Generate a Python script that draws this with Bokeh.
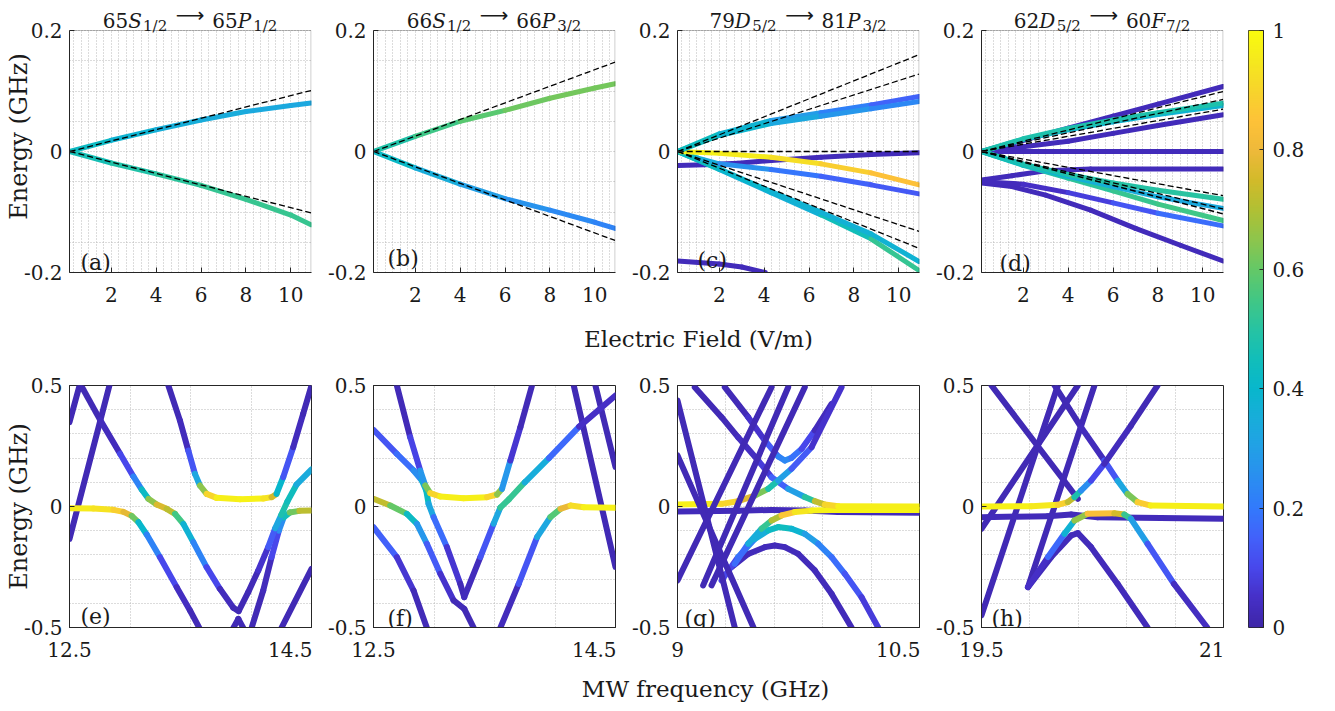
import numpy as np
from bokeh.plotting import figure
from bokeh.layouts import row, column
from bokeh.models import (ColumnDataSource, FixedTicker, LinearAxis, Label, Range1d, Grid,
                          LinearColorMapper, CustomJSTickFormatter, BoxAnnotation)
from bokeh.transform import linear_cmap
from bokeh.embed import file_html
from bokeh.resources import INLINE

FONT = "DejaVu Serif"
AX = "#262626"
TXT = "#1a1a1a"
GRID = "#b8b8b8"

# ---------------- parula-like colormap ----------------
_anch = [(0.00, (62, 38, 168)), (0.05, (70, 48, 200)), (0.10, (72, 72, 236)), (0.15, (66, 98, 250)),
         (0.20, (50, 122, 252)), (0.25, (42, 142, 240)), (0.30, (34, 160, 230)), (0.35, (24, 173, 218)),
         (0.40, (8, 183, 204)), (0.45, (18, 190, 185)), (0.50, (39, 195, 162)), (0.55, (66, 199, 132)),
         (0.60, (100, 200, 103)), (0.65, (141, 197, 76)), (0.70, (176, 192, 52)), (0.75, (210, 186, 42)),
         (0.80, (238, 185, 58)), (0.85, (254, 194, 56)), (0.90, (247, 212, 44)), (0.95, (245, 232, 30)),
         (1.00, (249, 251, 14))]


def _parula(n=256):
    pos = [a[0] for a in _anch]
    out = []
    for t in np.linspace(0, 1, n):
        rgb = [int(round(np.interp(t, pos, [a[1][k] for a in _anch]))) for k in range(3)]
        out.append("#%02x%02x%02x" % tuple(rgb))
    return out


PARULA = _parula()

# ---------------- data: top row (energy vs electric field) ----------------
field_range = (0.14, 10.9)
energy_top_range = (-0.2, 0.2)
field_ticks = [2, 4, 6, 8, 10]
field_minor = [k / 3 for k in range(1, 33) if k % 6 != 0]
energy_top_ticks = [-0.2, 0, 0.2]
energy_top_minor = [-0.15, -0.1, -0.05, 0.05, 0.1, 0.15]

# (a) 65S1/2 -> 65P1/2
a_x = [0.15, 2, 4, 6, 8, 10, 10.9]
a_up_y = [0, 0.0185, 0.036, 0.052, 0.066, 0.076, 0.080]
a_up_c = [0.45, 0.4, 0.36, 0.35, 0.34, 0.33, 0.33]
a_lo_y = [0, -0.019, -0.037, -0.056, -0.079, -0.105, -0.121]
a_lo_c = [0.45, 0.47, 0.5, 0.52, 0.53, 0.53, 0.53]
a_dash_end = [0.1008, -0.1014]

# (b) 66S1/2 -> 66P3/2
b_x = [0.15, 2, 4, 6, 8, 10, 10.9]
b_up_y = [0, 0.025, 0.050, 0.068, 0.088, 0.105, 0.112]
b_up_c = [0.45, 0.52, 0.57, 0.6, 0.62, 0.62, 0.62]
b_lo_y = [0, -0.027, -0.054, -0.078, -0.097, -0.117, -0.127]
b_lo_c = [0.45, 0.38, 0.32, 0.28, 0.25, 0.23, 0.22]
b_dash_end = [0.1477, -0.147]

# (c) 79D5/2 -> 81P3/2
c_x = [0.15, 2.0, 4.31, 6.53, 8.76, 10.9]
c_u1_y = [0, 0.0292, 0.0512, 0.0639, 0.0771, 0.0909]
c_u1_c = [0.45, 0.42, 0.33, 0.25, 0.18, 0.13]
c_u2_y = [0, 0.0264, 0.0463, 0.0584, 0.0705, 0.0826]
c_u2_c = [0.45, 0.42, 0.36, 0.3, 0.25, 0.22]
c_yl_y = [0, -0.0028, -0.0094, -0.0204, -0.0353, -0.0551]
c_yl_c = [0.97, 0.97, 0.95, 0.9, 0.86, 0.83]
c_pu_x = [0.15, 1.35, 2.83, 4.31, 6.53, 8.76, 10.9]
c_pu_y = [-0.0231, -0.022, -0.0193, -0.0149, -0.0094, -0.005, -0.0022]
c_bl_x = [0.15, 1.05, 2.0, 4.31, 6.53, 8.76, 10.9]
c_bl_y = [0, -0.011, -0.0204, -0.0298, -0.0408, -0.0551, -0.070]
c_bl_c = [0.45, 0.4, 0.3, 0.22, 0.17, 0.14, 0.13]
c_l1_y = [0, -0.0287, -0.0661, -0.1003, -0.1361, -0.1818]
c_l1_c = [0.45, 0.42, 0.38, 0.37, 0.37, 0.38]
c_l2_y = [0, -0.0298, -0.0683, -0.1047, -0.1444, -0.1967]
c_l2_c = [0.45, 0.38, 0.33, 0.4, 0.5, 0.55]
c_bt_x = [0.15, 2.0, 3.0, 4.05]
c_bt_y = [-0.181, -0.186, -0.191, -0.2]
c_dash_end = [0.160, 0.128, 0.0, -0.132, -0.160]

# (d) 62D5/2 -> 60F7/2
d_x = [0.15, 2, 4, 6, 8, 10.9]
d_t1_y = [0, 0.0185, 0.0385, 0.0585, 0.0784, 0.1074]
d_t2_y = [0, 0.021, 0.038, 0.052, 0.064, 0.080]
d_t3_y = [0, 0.020, 0.036, 0.049, 0.061, 0.076]
d_t4_y = [0, 0.008, 0.017, 0.030, 0.043, 0.0606]
d_z_y = [0, 0, 0, 0, 0, 0]
d_f2_x = [0.15, 1.5, 3, 5, 10.9]
d_f2_y = [-0.047, -0.040, -0.032, -0.029, -0.029]
d_m1_y = [-0.050, -0.054, -0.068, -0.085, -0.102, -0.123]
d_m1_c = [0.03, 0.04, 0.06, 0.1, 0.15, 0.2]
d_m2_x = [0.15, 1.5, 3, 5, 7, 9, 10.9]
d_m2_y = [-0.052, -0.058, -0.072, -0.097, -0.127, -0.155, -0.181]
d_l1_y = [0, -0.021, -0.038, -0.052, -0.064, -0.079]
d_l1_c = [0.45, 0.47, 0.48, 0.49, 0.5, 0.5]
d_l2_y = [0, -0.022, -0.041, -0.058, -0.075, -0.094]
d_l2_c = [0.45, 0.4, 0.37, 0.35, 0.34, 0.33]
d_l3_y = [0, -0.023, -0.044, -0.065, -0.087, -0.114]
d_l3_c = [0.45, 0.48, 0.5, 0.52, 0.54, 0.55]
d_dash_end = [0.099, 0.086, 0.070, -0.073, -0.095, -0.103]

# ---------------- data: bottom row (energy vs MW frequency) ----------------
energy_bot_range = (-0.5, 0.5)
energy_bot_ticks = [-0.5, 0, 0.5]
energy_bot_minor = [-0.4, -0.3, -0.2, -0.1, 0.1, 0.2, 0.3, 0.4]

# (e)
e_range = (12.5, 14.5)
e_ticks = [12.5, 14.5]
e_minor = [13.0, 13.5, 14.0]
e1_x = [12.5, 12.83]; e1_y = [-0.134, 0.5]
e2_x = [12.5, 12.583]; e2_y = [0.348, 0.5]
e3_x = [12.5, 12.698, 12.863, 12.946, 13.014, 13.069, 13.138, 13.248, 13.386, 13.496, 13.573]
e3_y = [-0.0069, -0.0083, -0.0138, -0.022, -0.0386, -0.0647, -0.1157, -0.2094, -0.3333, -0.4298, -0.5014]
e3_c = [0.96, 0.95, 0.92, 0.85, 0.72, 0.5, 0.3, 0.15, 0.05, 0.03, 0.02]
e4_x = [12.596, 12.753, 12.918, 13.028, 13.097, 13.152, 13.221, 13.303, 13.372, 13.441, 13.523, 13.633,
        13.743, 13.854, 13.898]
e4_y = [0.5, 0.358, 0.218, 0.124, 0.0702, 0.0317, 0.0083, -0.0096, -0.0303, -0.0716, -0.1474, -0.2507,
        -0.3402, -0.4187, -0.4325]
e4_c = [0.02, 0.02, 0.05, 0.15, 0.3, 0.55, 0.75, 0.78, 0.65, 0.45, 0.3, 0.15, 0.05, 0.02, 0.02]
e5_x = [13.898, 13.977, 14.060, 14.142, 14.2, 14.25, 14.3, 14.376, 14.5]
e5_y = [-0.4325, -0.354, -0.2645, -0.168, -0.09, -0.035, 0.02, 0.09, 0.153]
e5_c = [0.02, 0.02, 0.03, 0.08, 0.2, 0.45, 0.5, 0.38, 0.3]
e6_x = [13.317, 13.413, 13.482, 13.537, 13.578, 13.633, 13.716, 13.909, 14.101, 14.170, 14.211, 14.266,
        14.349, 14.431, 14.5]
e6_y = [0.5, 0.355, 0.231, 0.135, 0.0868, 0.052, 0.0358, 0.0303, 0.033, 0.0386, 0.052, 0.121, 0.245,
        0.383, 0.5]
e6_c = [0.02, 0.02, 0.05, 0.2, 0.45, 0.85, 0.95, 0.98, 0.97, 0.9, 0.6, 0.2, 0.05, 0.02, 0.02]
e7_x = [14.005, 14.101, 14.170, 14.23, 14.27, 14.32, 14.4, 14.5]
e7_y = [-0.5014, -0.3471, -0.2094, -0.1, -0.045, -0.025, -0.018, -0.0165]
e7_c = [0.02, 0.02, 0.05, 0.15, 0.35, 0.55, 0.68, 0.75]
e8_x = [14.252, 14.5]; e8_y = [-0.5014, -0.2576]
e9_x = [13.854, 13.895, 13.936]; e9_y = [-0.5014, -0.4642, -0.5014]

# (f)
f_range = (12.5, 14.5)
f1_x = [12.693, 12.803, 12.886, 12.928, 12.969, 13.052, 13.245, 13.438, 13.521, 13.562, 13.631, 13.714, 13.810]
f1_y = [0.5, 0.2865, 0.1488, 0.0868, 0.0551, 0.0413, 0.0344, 0.0386, 0.0496, 0.073, 0.190, 0.328, 0.5]
f1_c = [0.02, 0.03, 0.15, 0.4, 0.85, 0.95, 0.98, 0.95, 0.85, 0.45, 0.1, 0.03, 0.02]
f2_x = [12.5, 12.693, 12.831, 12.9, 12.936, 12.955, 12.997, 13.107, 13.217, 13.25]
f2_y = [0.3168, 0.2176, 0.1488, 0.1074, 0.0661, 0.011, -0.0441, -0.168, -0.3196, -0.3747]
f2_c = [0.1, 0.15, 0.2, 0.3, 0.45, 0.4, 0.25, 0.1, 0.03, 0.02]
f3_x = [12.5, 12.638, 12.776, 12.859, 12.941, 13.052, 13.162, 13.25, 13.328]
f3_y = [0.0317, 0.004, -0.0303, -0.0716, -0.154, -0.278, -0.388, -0.423, -0.501]
f3_c = [0.75, 0.7, 0.5, 0.35, 0.2, 0.08, 0.03, 0.02, 0.02]
f4_x = [12.5, 12.693, 12.831, 12.941]; f4_y = [-0.0854, -0.2094, -0.3471, -0.5014]
f4_c = [0.2, 0.1, 0.03, 0.02]
f5_x = [13.25, 13.383, 13.493, 13.548, 13.62, 13.75, 13.95, 14.2, 14.5]
f5_y = [-0.3747, -0.209, -0.071, -0.005, 0.03, 0.1, 0.2, 0.33, 0.459]
f5_c = [0.02, 0.05, 0.2, 0.45, 0.6, 0.45, 0.25, 0.08, 0.02]
f6_x = [13.548, 13.7, 13.852, 13.962, 14.045, 14.128, 14.238, 14.5]
f6_y = [-0.5014, -0.32, -0.1267, -0.0441, -0.0096, 0.0041, -0.0028, -0.0055]
f6_c = [0.02, 0.05, 0.2, 0.45, 0.7, 0.88, 0.96, 0.98]
f7_x = [14.155, 14.5]; f7_y = [0.5, -0.25]
f8_x = [14.334, 14.5]; f8_y = [0.5, 0.163]

# (g)
g_range = (9.0, 10.5)
g_ticks = [9, 10.5]
g_minor = [9.3, 9.6, 9.9, 10.2]
g_yl_x = [9, 9.169, 9.273, 9.376, 9.479, 9.562, 9.624, 9.707, 9.831, 10.017]
g_yl_y = [0.008, 0.01, 0.011, 0.022, 0.045, 0.073, 0.107, 0.156, 0.245, 0.493]
g_yl_c = [0.97, 0.97, 0.95, 0.85, 0.7, 0.55, 0.4, 0.2, 0.08, 0.03]
g_pf_x = [9, 9.376, 9.583, 9.789, 9.996, 10.5]
g_pf_y = [-0.021, -0.018, -0.014, -0.017, -0.023, -0.026]
g_yr_x = [9.107, 9.273, 9.376, 9.5, 9.583, 9.686, 9.789, 9.851, 9.913, 9.996, 10.5]
g_yr_y = [0.493, 0.369, 0.286, 0.190, 0.121, 0.073, 0.039, 0.022, 0.008, 0.001, 0]
g_yr_c = [0.02, 0.02, 0.03, 0.05, 0.1, 0.2, 0.4, 0.6, 0.85, 0.95, 0.98]
g_h1_x = [9.293, 9.438, 9.541, 9.624, 9.665, 9.707, 9.769, 9.851, 9.955]
g_h1_y = [0.493, 0.369, 0.273, 0.207, 0.190, 0.201, 0.238, 0.314, 0.424]
g_h1_c = [0.02, 0.03, 0.08, 0.2, 0.25, 0.22, 0.15, 0.05, 0.02]
g_l1_x = [9.355, 9.438, 9.521, 9.583, 9.645, 9.727, 9.831, 9.955, 10.5]
g_l1_y = [-0.237, -0.154, -0.092, -0.058, -0.037, -0.023, -0.017, -0.014, -0.014]
g_l1_c = [0.1, 0.25, 0.45, 0.6, 0.8, 0.92, 0.97, 0.98, 0.98]
g_l2_x = [9.273, 9.376, 9.479, 9.562, 9.624, 9.707, 9.789, 9.872, 9.955, 10.037, 10.141, 10.244]
g_l2_y = [-0.306, -0.209, -0.134, -0.099, -0.085, -0.092, -0.113, -0.154, -0.209, -0.278, -0.375, -0.5]
g_l2_c = [0.05, 0.15, 0.3, 0.4, 0.45, 0.42, 0.35, 0.25, 0.2, 0.15, 0.1, 0.05]
g_l3_x = [9.335, 9.438, 9.541, 9.603, 9.665, 9.748, 9.851, 9.955, 10.079]
g_l3_y = [-0.251, -0.196, -0.168, -0.161, -0.168, -0.196, -0.264, -0.361, -0.5]
g_s_x0 = [9.0, 9.0, 9.0, 9.159, 9.211]
g_s_y0 = [0.438, 0.211, -0.306, -0.326, -0.326]
g_s_x1 = [9.355, 9.471, 9.583, 9.686, 9.789]
g_s_y1 = [-0.5, -0.5, 0.493, 0.493, 0.493]

# (h)
h_range = (19.5, 21.0)
h_ticks = [19.5, 21]
h_minor = [19.8, 20.1, 20.4, 20.7]
h1_x = [19.5, 19.809, 19.973, 20.035, 20.076, 20.117, 20.179, 20.261, 20.426, 20.591]
h1_y = [0, 0.001, 0.007, 0.018, 0.039, 0.066, 0.107, 0.176, 0.334, 0.5]
h1_c = [0.97, 0.97, 0.93, 0.85, 0.6, 0.35, 0.15, 0.05, 0.02, 0.02]
h2_x = [19.953, 20.117, 20.261, 20.344, 20.405, 20.467, 20.549, 21.0]
h2_y = [0.5, 0.328, 0.190, 0.107, 0.052, 0.018, 0.004, 0]
h2_c = [0.02, 0.02, 0.05, 0.2, 0.45, 0.8, 0.95, 0.98]
h3_x = [19.5, 19.912, 20.056, 20.220, 21.0]
h3_y = [-0.044, -0.040, -0.033, -0.044, -0.051]
h4_x = [19.788, 19.912, 20.014, 20.076, 20.158, 20.323, 20.385, 20.426, 20.529, 20.693, 20.899]
h4_y = [-0.333, -0.209, -0.113, -0.058, -0.030, -0.028, -0.033, -0.051, -0.154, -0.320, -0.5]
h4_c = [0.02, 0.08, 0.25, 0.5, 0.82, 0.85, 0.65, 0.4, 0.2, 0.06, 0.02]
h5_x = [19.788, 19.932, 20.056, 20.097, 20.179, 20.344, 20.529]
h5_y = [-0.333, -0.209, -0.120, -0.110, -0.168, -0.320, -0.5]
h_s_x0 = [19.5, 19.5, 19.562, 19.788]
h_s_y0 = [-0.092, -0.450, 0.5, -0.333]
h_s_x1 = [20.097, 19.973, 20.097, 20.2]
h_s_y1 = [0.5, 0.5, 0.032, 0.5]

colorbar_ticks = [0, 0.2, 0.4, 0.6, 0.8, 1]
colorbar_levels = np.linspace(0, 1, 256)

titles = [
    [("65", "n"), ("S", "i"), ("1/2", "s"), ("\u27f6", "a"), ("65", "n"), ("P", "i"), ("1/2", "s")],
    [("66", "n"), ("S", "i"), ("1/2", "s"), ("\u27f6", "a"), ("66", "n"), ("P", "i"), ("3/2", "s")],
    [("79", "n"), ("D", "i"), ("5/2", "s"), ("\u27f6", "a"), ("81", "n"), ("P", "i"), ("3/2", "s")],
    [("62", "n"), ("D", "i"), ("5/2", "s"), ("\u27f6", "a"), ("60", "n"), ("F", "i"), ("7/2", "s")],
]

# ---------------- helpers ----------------
FMT = "return String(tick);"
HAS_CROSS = "cross_bounds" in Grid.properties()


def curve_source(curves):
    d = dict(x0=[], y0=[], x1=[], y1=[], c=[])
    for xs, ys, cs in curves:
        if not isinstance(cs, (list, tuple)):
            cs = [cs] * len(xs)
        for i in range(len(xs) - 1):
            d["x0"].append(xs[i]); d["y0"].append(ys[i])
            d["x1"].append(xs[i + 1]); d["y1"].append(ys[i + 1])
            d["c"].append(0.5 * (cs[i] + cs[i + 1]))
    return ColumnDataSource(d)


def make_panel(xr, yr, xt, xm, yt, ym, w, h, bl, bt, bb, br=1, ylabel=None, box=None):
    """box: (x0, x1, y0, y1) of the axes box when the frame is taller than the box (top row)."""
    p = figure(width=w, height=h, x_range=Range1d(*xr), y_range=Range1d(*yr), title=None,
               x_axis_type=None, y_axis_type=None, toolbar_location=None,
               output_backend="svg", min_border_left=bl, min_border_right=br,
               min_border_top=bt, min_border_bottom=bb)
    p.background_fill_color = "white"
    p.border_fill_color = "white"
    xtk = FixedTicker(ticks=xt, minor_ticks=xm)
    ytk = FixedTicker(ticks=yt, minor_ticks=ym)
    gx = Grid(dimension=0, ticker=xtk, grid_line_color=GRID, grid_line_dash="1 2", grid_line_width=1,
              minor_grid_line_color=GRID, minor_grid_line_dash="1 2", minor_grid_line_width=1)
    gy = Grid(dimension=1, ticker=ytk, grid_line_color=GRID, grid_line_dash="1 2", grid_line_width=1,
              minor_grid_line_color=GRID, minor_grid_line_dash="1 2", minor_grid_line_width=1)
    p.add_layout(gy)
    if box is None:
        p.outline_line_color = AX
        p.outline_line_width = 1
        p.add_layout(gx)
    else:
        p.outline_line_color = None
        if HAS_CROSS:
            gx.cross_bounds = (box[2], box[3])
            p.add_layout(gx)
        else:
            gxs = list(xt) + list(xm)
            p.segment(x0=gxs, y0=[box[2]] * len(gxs), x1=gxs, y1=[box[3]] * len(gxs),
                      line_color=GRID, line_dash="1 2", line_width=1, level="underlay")
        p.add_layout(BoxAnnotation(left=box[0], right=box[1], bottom=box[2], top=box[3],
                                   fill_alpha=0, fill_color=None, line_color=AX, line_width=1))
    for loc, tk in (("below", xtk), ("left", ytk)):
        ax = LinearAxis(ticker=tk, formatter=CustomJSTickFormatter(code=FMT),
                        axis_line_color=AX, major_tick_line_color=AX, major_tick_in=5,
                        major_tick_out=0, minor_tick_line_color=None, minor_tick_in=0,
                        minor_tick_out=0, major_label_text_font=FONT,
                        major_label_text_font_size="20px", major_label_text_color=TXT,
                        major_label_standoff=14 if loc == "below" else 7)
        if loc == "left" and box is not None:
            ax.bounds = (box[2], box[3])
        if loc == "left" and ylabel:
            ax.axis_label = ylabel
            ax.axis_label_text_font = FONT
            ax.axis_label_text_font_size = "24px"
            ax.axis_label_text_font_style = "normal"
            ax.axis_label_text_color = TXT
            ax.axis_label_standoff = -12
        p.add_layout(ax, loc)
    return p


def draw_curves(p, curves, lw):
    src = curve_source(curves)
    p.segment(x0="x0", y0="y0", x1="x1", y1="y1", source=src,
              line_color=linear_cmap("c", PARULA, 0, 1), line_width=lw, line_cap="round")


def draw_straight(p, x0, y0, x1, y1, lw, c=0.02):
    src = ColumnDataSource(dict(x0=x0, y0=y0, x1=x1, y1=y1, c=[c] * len(x0)))
    p.segment(x0="x0", y0="y0", x1="x1", y1="y1", source=src,
              line_color=linear_cmap("c", PARULA, 0, 1), line_width=lw, line_cap="round")


def draw_dashes(p, ends):
    n = len(ends)
    src = ColumnDataSource(dict(x0=[0.15] * n, y0=[0.0] * n, x1=[10.9] * n, y1=ends))
    p.segment(x0="x0", y0="y0", x1="x1", y1="y1", source=src, line_color="black",
              line_width=1.3, line_dash="6 3")


def add_letter(p, txt, dx, dy):
    p.add_layout(Label(x=dx, y=dy, x_units="screen", y_units="screen", text=txt, text_align="left",
                       text_baseline="alphabetic", text_font=FONT, text_font_size="22px",
                       text_color=TXT))


def strip(w, h):
    s = figure(width=w, height=h, x_range=Range1d(0, w), y_range=Range1d(0, h), x_axis_type=None,
               y_axis_type=None, toolbar_location=None, output_backend="svg", min_border=0,
               title=None)
    s.outline_line_color = None
    s.background_fill_color = "white"
    s.border_fill_color = "white"
    return s


W_IT = {"S": 0.67, "P": 0.70, "D": 0.80, "F": 0.66}
MAIN_PX, SUB_PX = 20, 15


def add_title(p, parts, cx, base_y):
    """Title composed of pieces (frame-relative px); the top-row frame reaches the page top."""
    pieces, x = [], 0.0
    for txt, kind in parts:
        if kind == "n":
            w = 0.636 * MAIN_PX * len(txt)
        elif kind == "i":
            w = W_IT[txt] * MAIN_PX + 1.5
        elif kind == "s":
            w = SUB_PX * (0.636 * 2 + 0.337) + 1
        else:
            w = 44
        pieces.append((txt, kind, x, w))
        x += w
    x0 = cx - x / 2
    for txt, kind, off, w in pieces:
        if kind == "a":
            lab = Label(x=x0 + off + w / 2, y=base_y + 6, x_units="screen", y_units="screen", text=txt,
                        text_align="center", text_baseline="middle", text_font="DejaVu Sans",
                        text_font_size="20px", text_color=TXT)
        else:
            lab = Label(x=x0 + off, y=base_y - (5 if kind == "s" else 0), x_units="screen",
                        y_units="screen", text=txt, text_align="left", text_baseline="alphabetic",
                        text_font=FONT, text_font_size="%dpx" % (SUB_PX if kind == "s" else MAIN_PX),
                        text_font_style="italic" if kind == "i" else "normal", text_color=TXT)
        p.add_layout(lab)


FW, FH = 242, 242
TITLE_SPACE = 30
LEFT0 = 69
widths = [LEFT0 + FW + 1, 304, 304, 304]
borders_left = [LEFT0, 61, 61, 61]
STRIP_W = sum(widths)
TOP_H, LAB1_H, BOT_H, LAB2_H = 312, 48, 307, 36

# top-row frame spans title space + axes box; the box itself is drawn at the data limits
top_y_range = (energy_top_range[0],
               energy_top_range[1] + (energy_top_range[1] - energy_top_range[0]) * TITLE_SPACE / FH)
top_x_range = (field_range[0], field_range[1] + 0.02)
top_box = (field_range[0], field_range[1], energy_top_range[0], energy_top_range[1])

# ---------------- top row ----------------
top = []
for i in range(4):
    p = make_panel(top_x_range, top_y_range, field_ticks, field_minor, energy_top_ticks,
                   energy_top_minor, widths[i], TOP_H, borders_left[i], 0, 40,
                   ylabel="Energy (GHz)" if i == 0 else None, box=top_box)
    add_title(p, titles[i], FW / 2, FH + 10)
    top.append(p)

pa, pb, pc, pd = top
draw_curves(pa, [(a_x, a_up_y, a_up_c), (a_x, a_lo_y, a_lo_c)], 5)
draw_dashes(pa, a_dash_end)
draw_curves(pb, [(b_x, b_up_y, b_up_c), (b_x, b_lo_y, b_lo_c)], 5)
draw_dashes(pb, b_dash_end)
draw_curves(pc, [(c_pu_x, c_pu_y, 0.03), (c_bt_x, c_bt_y, 0.03), (c_x, c_l2_y, c_l2_c),
                 (c_x, c_l1_y, c_l1_c), (c_bl_x, c_bl_y, c_bl_c), (c_x, c_yl_y, c_yl_c),
                 (c_x, c_u1_y, c_u1_c), (c_x, c_u2_y, c_u2_c)], 5)
draw_dashes(pc, c_dash_end)
draw_curves(pd, [(d_x, d_z_y, 0.03), (d_f2_x, d_f2_y, 0.03), (d_m2_x, d_m2_y, 0.03),
                 (d_x, d_m1_y, d_m1_c), (d_x, d_t4_y, 0.03), (d_x, d_t1_y, 0.03),
                 (d_x, d_t3_y, 0.38), (d_x, d_t2_y, 0.48), (d_x, d_l3_y, d_l3_c),
                 (d_x, d_l2_y, d_l2_c), (d_x, d_l1_y, d_l1_c)], 5)
draw_dashes(pd, d_dash_end)
for p, t, dx, dy in ((pa, "(a)", 11, 10), (pb, "(b)", 14, 14), (pc, "(c)", 20, 12), (pd, "(d)", 18, 9)):
    add_letter(p, t, dx, dy)

# ---------------- bottom row ----------------
bot_specs = [(e_range, e_ticks, e_minor), (f_range, e_ticks, e_minor), (g_range, g_ticks, g_minor),
             (h_range, h_ticks, h_minor)]
bottom = []
for i, (xr, xt, xm) in enumerate(bot_specs):
    bottom.append(make_panel(xr, energy_bot_range, xt, xm, energy_bot_ticks, energy_bot_minor,
                             widths[i], BOT_H, borders_left[i], 25, 40,
                             ylabel="Energy (GHz)" if i == 0 else None))
pe, pf, pg, ph = bottom

draw_curves(pe, [(e1_x, e1_y, 0.02), (e2_x, e2_y, 0.02), (e8_x, e8_y, 0.02), (e9_x, e9_y, 0.02),
                 (e7_x, e7_y, e7_c), (e5_x, e5_y, e5_c), (e3_x, e3_y, e3_c), (e4_x, e4_y, e4_c),
                 (e6_x, e6_y, e6_c)], 6)
draw_curves(pf, [(f4_x, f4_y, f4_c), (f7_x, f7_y, 0.02), (f8_x, f8_y, 0.02), (f3_x, f3_y, f3_c),
                 (f2_x, f2_y, f2_c), (f5_x, f5_y, f5_c), (f6_x, f6_y, f6_c), (f1_x, f1_y, f1_c)], 6)
draw_curves(pg, [(g_pf_x, g_pf_y, 0.03), (g_l3_x, g_l3_y, 0.03), (g_h1_x, g_h1_y, g_h1_c),
                 (g_l2_x, g_l2_y, g_l2_c), (g_l1_x, g_l1_y, g_l1_c), (g_yr_x, g_yr_y, g_yr_c),
                 (g_yl_x, g_yl_y, g_yl_c)], 6)
draw_straight(pg, g_s_x0, g_s_y0, g_s_x1, g_s_y1, 6)
draw_straight(ph, h_s_x0, h_s_y0, h_s_x1, h_s_y1, 6)
draw_curves(ph, [(h3_x, h3_y, 0.03), (h5_x, h5_y, 0.03), (h4_x, h4_y, h4_c), (h2_x, h2_y, h2_c),
                 (h1_x, h1_y, h1_c)], 6)
for p, t, dx, dy in ((pe, "(e)", 11, 11), (pf, "(f)", 14, 9), (pg, "(g)", 7, 9), (ph, "(h)", 10, 9)):
    add_letter(p, t, dx, dy)


# ---------------- shared x labels ----------------
def label_strip(text, w, h, cx, cy_from_bottom):
    s = strip(w, h)
    s.add_layout(Label(x=cx, y=cy_from_bottom, x_units="screen", y_units="screen", text=text,
                       text_align="center", text_baseline="middle", text_font=FONT,
                       text_font_size="23px", text_color=TXT))
    return s


lab1 = label_strip("Electric Field (V/m)", STRIP_W, LAB1_H, 698, 22)
lab2 = label_strip("MW frequency (GHz)", STRIP_W, LAB2_H, 705, 15)

# ---------------- colorbar ----------------
TOTAL_H = TOP_H + LAB1_H + BOT_H + LAB2_H
cb = figure(width=84, height=TOTAL_H, x_range=Range1d(0, 1), y_range=Range1d(0, 1), x_axis_type=None,
            y_axis_type=None, toolbar_location=None, output_backend="svg", min_border_left=24,
            min_border_right=45, min_border_top=30, min_border_bottom=TOTAL_H - 30 - 597, title=None)
cb.image(image=[colorbar_levels.reshape(-1, 1)], x=0, y=0, dw=1, dh=1,
         color_mapper=LinearColorMapper(palette=PARULA, low=0, high=1))
cb.outline_line_color = AX
cb_ax = LinearAxis(ticker=FixedTicker(ticks=colorbar_ticks), formatter=CustomJSTickFormatter(code=FMT),
                   axis_line_color=AX, major_tick_line_color=AX, major_tick_in=4, major_tick_out=0,
                   minor_tick_line_color=None, minor_tick_out=0, major_label_text_font=FONT,
                   major_label_text_font_size="20px", major_label_text_color=TXT,
                   major_label_standoff=9)
cb.add_layout(cb_ax, "right")

page = row(column(row(*top), lab1, row(*bottom), lab2), cb)
open("out.html", "w").write(file_html(page, INLINE))
